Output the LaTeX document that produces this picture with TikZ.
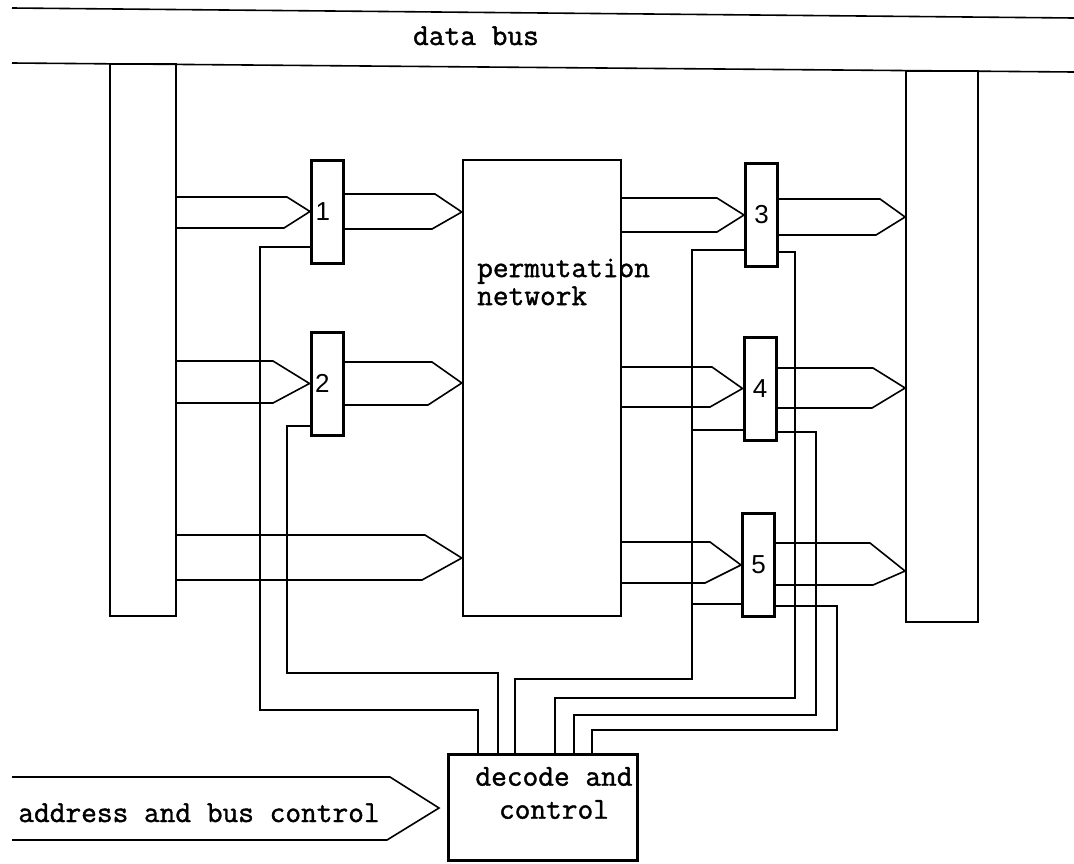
\documentclass[tikz,border=0pt]{standalone}
\usepackage{fontspec}
\newfontfamily\typefont[FakeBold=1.3]{Latin Modern Mono}
\newfontfamily\digitfont{Liberation Sans}
\usepackage{tikz}

\begin{document}
\begin{tikzpicture}[x=1pt, y=-1pt,
        busline/.style={line width=1.6pt},
        column/.style={draw, line width=1.8pt, minimum width=66pt, inner sep=0pt},
        reg/.style={draw, line width=3pt, minimum width=32pt, minimum height=103pt, inner sep=2pt, font=\digitfont\fontsize{26}{28}\selectfont},
        regl/.style={reg, text width=24pt, align=left, inner xsep=4pt},
        block/.style={draw, line width=2.4pt, inner sep=0pt},
        lbl/.style={inner sep=0pt, font=\typefont\fontsize{30.5}{28}\selectfont},
        bus/.style={line width=1.6pt, line join=miter},
        wire/.style={line width=1.5pt}
    ]
        \useasboundingbox (0,0) rectangle (1074,863);

        \coordinate (dbtl) at (12,8);
        \coordinate (dbtr) at (1074,18);
        \coordinate (dbbl) at (12,63);
        \coordinate (dbbr) at (1074,72);
        \draw[busline] (dbtl) -- (dbtr);
        \draw[busline] (dbbl) -- (dbbr);
        \node[lbl, anchor=base] (dbtext) at (476,45) {data bus};

        \node[column, minimum height=552pt] (lbus) at (143,340) {};
        \node[column, minimum width=72pt, minimum height=551pt] (rbus) at (942,346.5) {};

        \node[block, minimum width=158pt, minimum height=456pt] (perm) at (542,388) {};
        \node[lbl, anchor=west, align=left] (permtext) at (477,282) {permutation\\network};

        \node[regl] (r1) at (327.5,211.5) {1};
        \node[regl] (r2) at (327,383.5) {2};
        \node[reg] (r3) at (761.5,215) {3};
        \node[reg] (r4) at (760,388.5) {4};
        \node[reg] (r5) at (758.5,565) {5};

        \node[block, line width=3pt, minimum width=189pt, minimum height=106pt] (dec) at (542.5,807) {};
        \node[lbl, align=center, font=\typefont\fontsize{30.5}{33}\selectfont] (dectext) at (554,793) {decode and\\control};

        % bus transfers
        \draw[bus] (lbus.east |- 0,197) -- (287,197) -- (r1.west) -- (284,228) -- (lbus.east |- 0,228);
        \draw[bus] (lbus.east |- 0,361) -- (273,361) -- (r2.west) -- (273,403) -- (lbus.east |- 0,403);
        \draw[bus] (lbus.east |- 0,535) -- (425,535) -- (perm.west |- 0,558) -- (422,580) -- (lbus.east |- 0,580);
        \draw[bus] (r1.east |- 0,194) -- (435,194) -- (perm.west |- 0,212) -- (432,229) -- (r1.east |- 0,229);
        \draw[bus] (r2.east |- 0,362) -- (432,362) -- (perm.west |- 0,383) -- (428,405) -- (r2.east |- 0,405);
        \draw[bus] (perm.east |- 0,198) -- (717,198) -- (r3.west) -- (717,232) -- (perm.east |- 0,232);
        \draw[bus] (perm.east |- 0,367) -- (712,367) -- (r4.west) -- (710,407) -- (perm.east |- 0,407);
        \draw[bus] (perm.east |- 0,542) -- (710,542) -- (r5.west) -- (705,583) -- (perm.east |- 0,583);
        \draw[bus] (r3.east |- 0,199) -- (880,199) -- (rbus.west |- 0,217) -- (876,235) -- (r3.east |- 0,235);
        \draw[bus] (r4.east |- 0,368) -- (873,368) -- (rbus.west |- 0,388) -- (872,408) -- (r4.east |- 0,408);
        \draw[bus] (r5.east |- 0,543) -- (870,543) -- (rbus.west |- 0,571) -- (873,585) -- (r5.east |- 0,585);

        \coordinate (addrin) at (12,808);
        \coordinate (addrtip) at (439,808);
        \draw[bus] (addrin |- 0,777) -- (390,777) -- (addrtip) -- (387,840) -- (addrin |- 0,840);
        \node[lbl, anchor=base] (addrtext) at (199,822) {address and bus control};

        % control lines
        \coordinate (lctl) at (692,679);
        \draw[wire] (r1.west |- 0,247) -| (260,710) -| (dec.north -| 478,0);
        \draw[wire] (r2.west |- 0,426) -| (287,673) -| (dec.north -| 498,0);
        \draw[wire] (r3.west |- 0,250) -| (lctl) -| (dec.north -| 515,0);
        \draw[wire] (r4.west |- 0,430) -- (lctl |- 0,430);
        \draw[wire] (r5.west |- 0,604) -- (lctl |- 0,604);
        \draw[wire] (r3.east |- 0,252) -| (795,698) -| (dec.north -| 555,0);
        \draw[wire] (r4.east |- 0,432) -| (816,715) -| (dec.north -| 574,0);
        \draw[wire] (r5.east |- 0,606) -| (837,730) -| (dec.north -| 592,0);
    \end{tikzpicture}
\end{document}
